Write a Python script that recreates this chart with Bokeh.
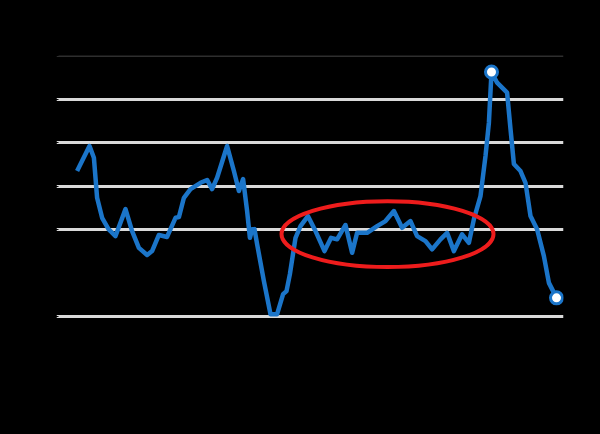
from bokeh.plotting import figure
from bokeh.embed import file_html
from bokeh.resources import INLINE
from bokeh.models import Span, FixedTicker, Range1d

# Series (decimal year, percent)
years = [2000.03, 2000.65, 2000.87, 2001.03, 2001.28, 2001.60, 2001.95, 2002.45, 2002.78, 2003.12,
         2003.53, 2003.78, 2004.12, 2004.53, 2004.70, 2004.95, 2005.12, 2005.37, 2005.70, 2006.20,
         2006.53, 2006.78, 2007.03, 2007.53, 2007.87, 2008.12, 2008.33, 2008.53, 2008.67, 2008.78,
         2008.90, 2009.03, 2009.37, 2009.70, 2010.03, 2010.33, 2010.50, 2010.67, 2010.95, 2011.20,
         2011.57, 2011.95, 2012.40, 2012.73, 2013.03, 2013.45, 2013.78, 2014.03, 2014.53, 2015.03,
         2015.45, 2015.87, 2016.28, 2016.70, 2017.03, 2017.45, 2017.78, 2018.20, 2018.53, 2018.87,
         2019.28, 2019.62, 2019.87, 2020.20, 2020.45, 2020.62, 2020.75, 2021.03, 2021.53, 2021.70,
         2021.87, 2022.20, 2022.45, 2022.70, 2023.03, 2023.37, 2023.62, 2024.00]
values = [4.69, 5.84, 5.30, 3.46, 2.54, 2.02, 1.70, 2.94, 1.93, 1.16,
          0.83, 1.01, 1.75, 1.66, 2.02, 2.54, 2.57, 3.46, 3.86, 4.15,
          4.28, 3.86, 4.38, 5.84, 4.69, 3.77, 4.32, 2.85, 1.62, 2.01,
          2.02, 1.33, -0.37, -1.89, -1.89, -0.97, -0.83, -0.05, 1.62, 2.16,
          2.62, 1.93, 1.01, 1.62, 1.55, 2.21, 0.93, 1.85, 1.85, 2.16,
          2.39, 2.85, 2.08, 2.39, 1.70, 1.47, 1.09, 1.55, 1.85, 1.01,
          1.78, 1.39, 2.48, 3.54, 5.38, 6.91, 9.24, 8.75, 8.29, 6.62,
          5.01, 4.69, 4.15, 2.62, 2.01, 0.78, -0.45, -1.14]

grid_values = [-2, 2, 4, 6, 8]
top_value = 10
zero_value = 0

# highlighted calm period (ellipse)
calm_center_year = 2015.55
calm_center_value = 1.79
calm_width_years = 10.6
calm_height_value = 3.03

peak_idx = values.index(max(values))
end_idx = len(values) - 1

BLUE = "#1b75c9"

p = figure(width=584, height=418, output_backend="svg", toolbar_location=None,
           x_range=Range1d(1999.0, 2024.35), y_range=Range1d(-2.18, 10.0),
           min_border_left=56, min_border_right=21, min_border_top=55, min_border_bottom=98)
p.background_fill_color = "black"
p.border_fill_color = "black"
p.outline_line_color = None

p.xaxis.visible = False
p.xgrid.visible = False
p.yaxis.ticker = FixedTicker(ticks=[-2, 0, 2, 4, 6, 8, 10])
p.yaxis.axis_line_color = None
p.yaxis.major_tick_line_color = "black"
p.yaxis.minor_tick_line_color = None
p.yaxis.major_label_text_color = "black"
p.yaxis.major_label_text_font = "Liberation Sans"
p.yaxis.major_label_text_font_size = "11px"

p.ygrid.ticker = FixedTicker(ticks=grid_values)
p.ygrid.grid_line_color = "#d9d9d9"
p.ygrid.grid_line_width = 3

p.add_layout(Span(location=top_value, dimension="width", line_color="#2e2e2e",
                  line_width=3, level="underlay"))
p.add_layout(Span(location=zero_value, dimension="width", line_color="black",
                  line_width=3, level="underlay"))

p.line(years, values, line_color=BLUE, line_width=4.5, line_join="round")

p.ellipse(x=[calm_center_year], y=[calm_center_value], width=[calm_width_years],
          height=[calm_height_value], fill_color=None, line_color="#ee1c1c", line_width=4)

p.scatter([years[peak_idx], years[end_idx]], [values[peak_idx], values[end_idx]],
          size=12, fill_color="white", line_color=BLUE, line_width=3)

html = file_html(p, INLINE)
html = html.replace("<body>", '<body style="background:#000000;">', 1)
html = html.replace("<html", '<html style="background:#000000;"', 1)
open("out.html", "w").write(html)
